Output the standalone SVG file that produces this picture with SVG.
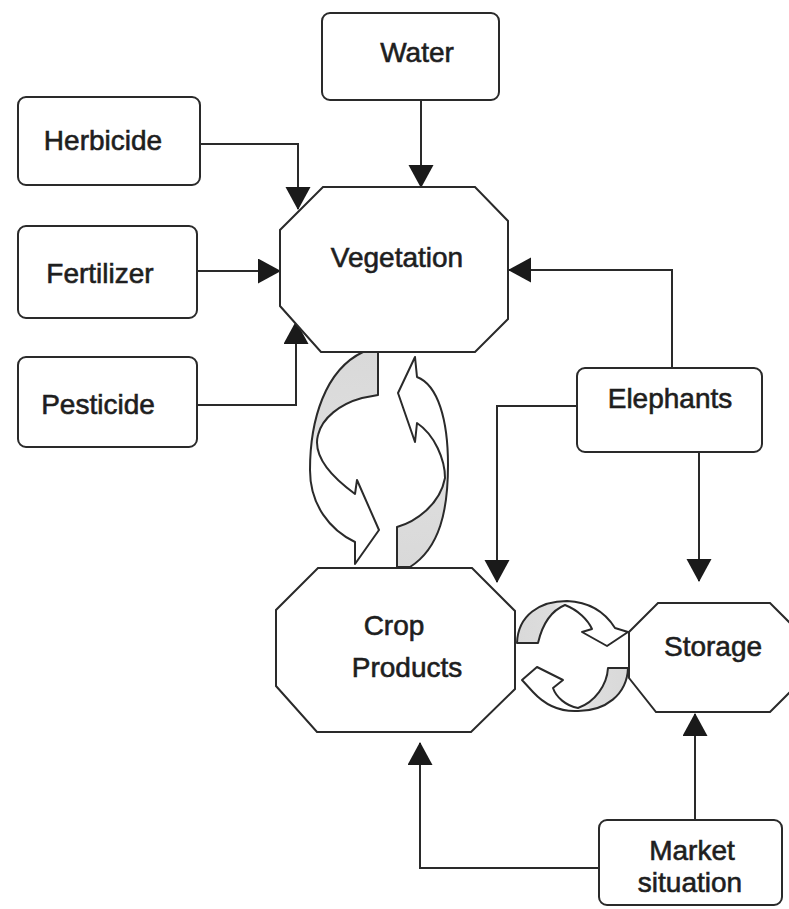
<svg xmlns="http://www.w3.org/2000/svg" width="789" height="909" viewBox="0 0 789 909">
  <style>
    .box { fill: #ffffff; stroke: #2a2a2a; stroke-width: 2; }
    .oct { fill: #ffffff; stroke: #2a2a2a; stroke-width: 2; }
    .lbl { font-family: "Liberation Sans", Arial, sans-serif; font-size: 28px; fill: #1e1e1e; stroke: #1e1e1e; stroke-width: 0.6; text-anchor: middle; }
    .wire { fill: none; stroke: #2a2a2a; stroke-width: 2; marker-end: url(#head); }
    .cyc { stroke: #2a2a2a; stroke-width: 2; stroke-linejoin: round; }
  </style>
  <defs>
    <marker id="head" markerUnits="userSpaceOnUse" markerWidth="26" markerHeight="26" refX="22" refY="12.5" orient="auto">
      <path d="M0,0 L23,12.5 L0,25 Z" fill="#1a1a1a"/>
    </marker>
    <linearGradient id="gDown" gradientUnits="userSpaceOnUse" x1="0" y1="352" x2="0" y2="455">
      <stop offset="0" stop-color="#d9d9d9"/>
      <stop offset="0.75" stop-color="#dddddd"/>
      <stop offset="1" stop-color="#ffffff"/>
    </linearGradient>
    <linearGradient id="gUp" gradientUnits="userSpaceOnUse" x1="0" y1="567" x2="0" y2="465">
      <stop offset="0" stop-color="#d9d9d9"/>
      <stop offset="0.75" stop-color="#dddddd"/>
      <stop offset="1" stop-color="#ffffff"/>
    </linearGradient>
    <linearGradient id="gRight" gradientUnits="userSpaceOnUse" x1="517" y1="0" x2="570" y2="0">
      <stop offset="0" stop-color="#d9d9d9"/>
      <stop offset="0.7" stop-color="#dddddd"/>
      <stop offset="1" stop-color="#ffffff"/>
    </linearGradient>
    <linearGradient id="gLeft" gradientUnits="userSpaceOnUse" x1="628" y1="0" x2="575" y2="0">
      <stop offset="0" stop-color="#d9d9d9"/>
      <stop offset="0.7" stop-color="#dddddd"/>
      <stop offset="1" stop-color="#ffffff"/>
    </linearGradient>
  </defs>

  <rect width="789" height="909" fill="#ffffff"/>

  <!-- connectors -->
  <g id="connectors">
    <path class="wire" d="M421,100 L421,187"/>
    <path class="wire" d="M200,144 L298,144 L298,209"/>
    <path class="wire" d="M197,271 L280,271"/>
    <path class="wire" d="M197,405 L296,405 L296,322"/>
    <path class="wire" d="M672,368 L672,270 L509,270"/>
    <path class="wire" d="M577,406 L497,406 L497,582"/>
    <path class="wire" d="M699,452 L699,581"/>
    <path class="wire" d="M599,868 L420,868 L420,743"/>
    <path class="wire" d="M695,820 L695,714"/>
  </g>

  <!-- cycle arrows between vegetation and crop products -->
  <g id="cycle-vegetation-crop">
    <path class="cyc" fill="url(#gDown)" d="M378,352 L378,395 L362,398 C340,404 322,418 318,435 C314,450 322,470 355,494 L357,480 L379,530 L355,564 L355,542 C330,530 310,505 310,470 C310,420 325,370 363,352 Z"/>
    <path class="cyc" fill="url(#gUp)" d="M397,567 L397,527 C415,522 440,505 445,478 C445,460 435,435 417,423 L415,442 L398,393 L415,357 L417,377 C438,385 448,420 448,465 C448,510 440,548 410,567 Z"/>
  </g>

  <!-- cycle arrows between crop products and storage -->
  <g id="cycle-crop-storage">
    <path class="cyc" fill="url(#gRight)" d="M517,643 L538,643 C541,630 548,612 565,605 C578,610 588,620 592,629 L582,632 L607,646 L628,632 L615,628 C605,612 590,602 567,601 C540,601 518,615 517,643 Z"/>
    <path class="cyc" fill="url(#gLeft)" d="M628,668 L608,668 C607,685 595,702 578,708 C566,706 556,697 553,688 L563,680 L537,667 L522,680 L533,692 C545,705 560,712 578,711 C605,711 627,695 628,668 Z"/>
  </g>

  <!-- input boxes -->
  <g id="water">
    <rect class="box" x="322" y="13" width="177" height="87" rx="8"/>
    <text class="lbl" x="417" y="62">Water</text>
  </g>
  <g id="herbicide">
    <rect class="box" x="18" y="97" width="182" height="88" rx="8"/>
    <text class="lbl" x="103" y="150">Herbicide</text>
  </g>
  <g id="fertilizer">
    <rect class="box" x="18" y="226" width="179" height="92" rx="8"/>
    <text class="lbl" x="100" y="283">Fertilizer</text>
  </g>
  <g id="pesticide">
    <rect class="box" x="18" y="357" width="179" height="90" rx="8"/>
    <text class="lbl" x="98" y="414">Pesticide</text>
  </g>

  <!-- vegetation -->
  <g id="vegetation">
    <polygon class="oct" points="323,187 475,187 508,221 508,319 475,352 321,352 280,306 280,230"/>
    <text class="lbl" x="397" y="267">Vegetation</text>
  </g>

  <!-- elephants -->
  <g id="elephants">
    <rect class="box" x="577" y="368" width="185" height="84" rx="8"/>
    <text class="lbl" x="670" y="408">Elephants</text>
  </g>

  <!-- crop products -->
  <g id="crop-products">
    <polygon class="oct" points="318,568 472,568 515,611 515,689 471,732 317,732 276,686 276,610"/>
    <text class="lbl" x="394" y="635">Crop</text>
    <text class="lbl" x="407" y="677">Products</text>
  </g>

  <!-- storage -->
  <g id="storage">
    <polygon class="oct" points="658,603 770,603 799,632 799,683 770,712 656,712 629,678 629,632"/>
    <text class="lbl" x="713" y="656">Storage</text>
  </g>

  <!-- market situation -->
  <g id="market-situation">
    <rect class="box" x="599" y="820" width="183" height="85" rx="8"/>
    <text class="lbl" x="692" y="860">Market</text>
    <text class="lbl" x="690" y="892">situation</text>
  </g>
</svg>
